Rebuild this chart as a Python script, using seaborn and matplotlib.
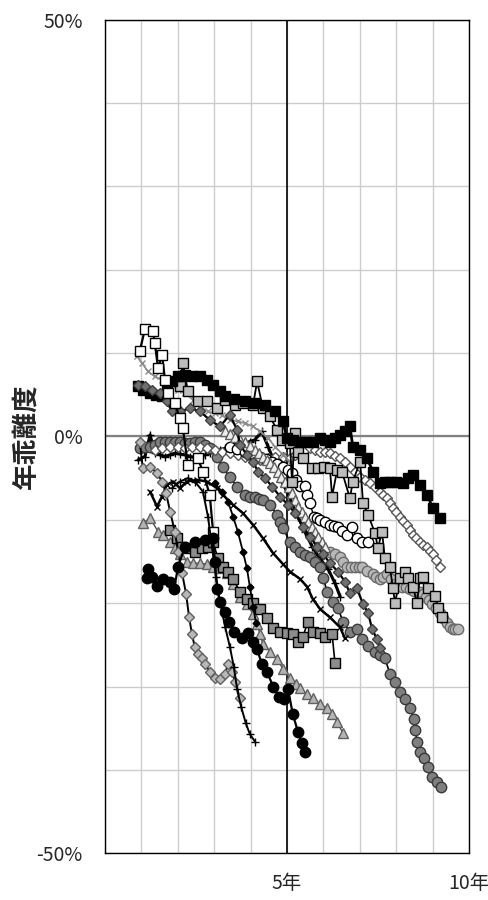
import pandas as pd
import seaborn as sns
from matplotlib import pyplot as plt

# ---------------------------------------------------------------
# data: years since start (x) and yearly deviation in % (y)
# ---------------------------------------------------------------
sqBlack_x = [0.91, 1.05, 1.24, 1.40, 1.57, 1.70, 1.84, 2.01, 2.20, 2.40, 2.61, 2.80, 2.97, 3.15, 3.30, 3.55, 3.85, 4.10, 4.40, 4.67, 4.89, 5.0, 5.18, 5.36, 5.55, 5.71, 5.91, 6.05, 6.18, 6.32, 6.46, 6.60, 6.73, 6.81, 7.01, 7.20, 7.36, 7.55, 7.70, 7.83, 8.00, 8.19, 8.33, 8.46, 8.65, 8.85, 9.01, 9.20]
sqBlack_y = [6.0, 5.6, 5.2, 5.0, 4.8, 5.6, 6.6, 7.2, 7.4, 7.3, 7.2, 6.8, 6.2, 5.5, 4.8, 4.5, 4.2, 4.0, 3.8, 3.0, 1.8, -0.2, -0.4, -0.6, -0.6, -0.6, -0.2, -0.4, -0.6, -0.2, 0.2, 0.7, 1.2, -1.2, -1.6, -2.6, -4.2, -5.6, -5.5, -5.4, -5.5, -5.6, -5.0, -4.6, -5.8, -7.0, -8.6, -9.8]

sqWhite_x = [0.96, 1.10, 1.32, 1.37, 1.46, 1.57, 1.65, 1.73, 1.92, 2.06, 2.14, 2.28, 2.55, 2.69, 2.88, 2.97]
sqWhite_y = [10.3, 12.9, 12.7, 11.2, 8.2, 9.8, 6.8, 5.2, 4.0, 2.2, 1.0, -3.4, -2.6, -4.2, -7.0, -11.4]

sqLight_x = [2.06, 2.14, 2.28, 2.55, 2.80, 3.08, 3.30, 3.57, 3.79, 4.07, 4.18, 4.34, 4.53, 4.73, 4.86, 5.08, 5.14, 5.22, 5.30, 5.44, 5.69, 5.85, 6.02, 6.18, 6.24, 6.38, 6.51, 6.73, 6.81, 7.01, 7.09, 7.23, 7.42, 7.50, 7.61, 7.69, 7.83, 7.91, 7.97, 8.10, 8.24, 8.32, 8.46, 8.57, 8.65, 8.74, 8.87, 9.07, 9.15, 9.26]
sqLight_y = [6.0, 8.8, 5.4, 4.2, 4.2, 3.4, 4.4, 3.8, 4.0, 3.8, 6.6, 3.4, 2.4, 0.8, -0.4, -0.8, -5.4, 0.4, -1.8, -2.6, -3.8, -3.8, -3.6, -3.8, -7.2, -4.0, -4.2, -7.4, -5.4, -3.0, -8.0, -9.4, -11.6, -13.4, -11.4, -14.6, -15.7, -18.2, -20.0, -17.0, -16.2, -17.0, -18.0, -20.0, -17.0, -16.8, -18.2, -19.1, -20.6, -21.6]

dmWhite_x = [1.37, 1.58, 1.79, 2.00, 2.20, 2.40, 2.61, 2.80, 3.02, 3.22, 3.43, 3.65, 3.85, 4.05, 4.26, 4.47, 4.67, 4.88, 5.08, 5.22, 5.36, 5.50, 5.63, 5.77, 5.91, 6.05, 6.18, 6.32, 6.46, 6.60, 6.73, 6.87, 7.01, 7.15, 7.28, 7.42, 7.55, 7.65, 7.75, 7.83, 7.91, 8.00, 8.10, 8.20, 8.30, 8.38, 8.46, 8.55, 8.65, 8.75, 8.85, 8.93, 9.01, 9.10, 9.20]
dmWhite_y = [-1.6, -1.4, -1.2, -1.3, -1.4, -1.3, -1.2, -1.4, -1.6, -1.8, -2.0, -2.2, -2.4, -2.6, -2.8, -2.6, -2.4, -2.5, -2.6, -2.2, -1.8, -1.6, -1.4, -1.6, -1.8, -1.9, -2.0, -2.3, -2.6, -3.1, -3.6, -4.2, -4.8, -5.2, -5.6, -6.1, -6.6, -7.0, -7.4, -8.0, -8.6, -9.1, -9.6, -10.1, -10.6, -11.2, -11.8, -12.2, -12.6, -13.0, -13.3, -13.7, -14.1, -14.8, -15.6]

ciWhite_x = [3.43, 3.64, 3.85, 4.05, 4.26, 4.42, 4.59, 4.74, 4.89, 5.02, 5.14, 5.25, 5.36, 5.49, 5.56, 5.63, 5.74, 5.82, 5.91, 6.05, 6.18, 6.29, 6.40, 6.52, 6.65, 6.79, 6.92, 7.06, 7.23]
ciWhite_y = [-1.2, -1.5, -1.8, -2.1, -2.4, -2.7, -3.0, -3.3, -3.6, -4.0, -4.4, -5.2, -5.9, -5.9, -7.0, -8.0, -9.6, -9.8, -10.0, -10.3, -10.6, -10.7, -10.8, -11.3, -11.8, -10.8, -12.2, -12.6, -12.7]

ciLight_x = [6.18, 6.32, 6.46, 6.55, 6.65, 6.76, 6.87, 6.97, 7.06, 7.20, 7.36, 7.45, 7.55, 7.65, 7.75, 7.86, 7.97, 8.06, 8.16, 8.27, 8.38, 8.50, 8.65, 8.74, 8.82, 8.90, 8.98, 9.09, 9.20, 9.30, 9.40, 9.48, 9.56, 9.63, 9.70]
ciLight_y = [-13.8, -14.1, -14.4, -15.0, -15.6, -15.6, -15.6, -15.7, -15.7, -16.1, -16.5, -16.8, -17.1, -16.8, -16.5, -17.1, -17.7, -17.8, -18.0, -18.1, -18.3, -18.5, -18.6, -18.9, -19.2, -19.6, -20.1, -20.6, -21.2, -21.8, -22.4, -22.8, -23.1, -23.1, -23.1]

ciDark_x = [0.96, 1.10, 1.24, 1.37, 1.51, 1.65, 1.79, 1.92, 2.06, 2.20, 2.34, 2.47, 2.61, 2.75, 2.88, 3.08, 3.24, 3.43, 3.63, 3.85, 3.98, 4.12, 4.23, 4.34, 4.53, 4.73, 4.81, 4.89, 5.08, 5.22, 5.36, 5.50, 5.63, 5.77, 5.91, 6.00, 6.10, 6.26, 6.40, 6.54, 6.73, 6.92, 7.06, 7.23, 7.42, 7.55, 7.69, 7.83, 7.97, 8.10, 8.24, 8.38, 8.49, 8.53, 8.57, 8.65, 8.76, 8.87, 8.98, 9.12, 9.23]
ciDark_y = [-1.4, -1.3, -1.2, -1.0, -0.7, -0.6, -0.6, -0.6, -0.7, -0.8, -0.8, -0.7, -0.7, -1.0, -1.4, -2.4, -3.7, -4.9, -6.0, -7.0, -7.2, -7.3, -7.5, -7.6, -8.2, -9.4, -10.2, -11.0, -12.6, -13.3, -13.8, -14.2, -14.5, -15.0, -15.6, -17.0, -18.6, -19.8, -20.6, -22.2, -23.4, -23.1, -24.3, -25.1, -25.9, -26.2, -26.6, -28.5, -29.4, -30.6, -31.5, -32.6, -33.9, -35.2, -36.6, -37.8, -38.6, -39.6, -40.8, -41.4, -42.0]

dmDark_x = [0.91, 1.10, 1.29, 1.51, 1.70, 1.84, 2.06, 2.34, 2.61, 2.88, 3.16, 3.43, 3.63, 3.71, 3.90, 4.07, 4.20, 4.40, 4.59, 4.81, 5.03, 5.22, 5.44, 5.63, 5.82, 5.99, 6.18, 6.40, 6.59, 6.73, 6.92, 7.09, 7.23, 7.34, 7.47, 7.55]
dmDark_y = [6.2, 6.0, 5.6, 5.2, 4.2, 3.0, 3.0, 3.4, 3.0, 2.0, 1.2, 2.6, 0.8, -1.0, -2.2, -3.0, -4.2, -5.0, -6.0, -7.2, -8.2, -9.2, -10.8, -12.0, -13.2, -14.1, -15.2, -16.2, -17.4, -18.8, -18.2, -20.1, -21.2, -23.1, -24.3, -25.4]

xBlack_x = [1.24, 1.43, 1.57, 1.70, 1.87, 2.06, 2.25, 2.53, 2.80, 3.08, 3.24, 3.52, 3.79, 4.07, 4.34, 4.62, 4.89, 5.08, 5.36, 5.55, 5.71, 5.91, 6.18, 6.46, 6.59]
xBlack_y = [-6.6, -8.4, -7.2, -5.8, -5.4, -6.2, -5.4, -5.2, -5.4, -6.2, -7.0, -8.2, -9.2, -10.6, -12.2, -14.0, -15.3, -16.2, -17.1, -18.0, -19.5, -20.7, -21.7, -22.9, -24.2]

plusBlack_x = [1.84, 2.06, 2.28, 2.47, 2.69, 2.83, 2.94, 3.05, 3.16, 3.30, 3.43, 3.54, 3.63, 3.74, 3.87, 3.98, 4.12]
plusBlack_y = [-6.2, -5.4, -5.0, -5.4, -6.6, -9.6, -13.2, -16.8, -19.8, -22.8, -25.2, -27.6, -30.3, -32.4, -34.4, -35.7, -36.6]

xGray_x = [0.88, 1.02, 1.18, 1.37, 1.57, 1.79, 2.01, 2.20, 2.42, 2.61, 2.83, 3.02, 3.21, 3.43, 3.65, 3.85, 4.07, 4.26, 4.48, 4.67, 4.89, 5.08]
xGray_y = [9.6, 8.8, 7.8, 7.2, 6.8, 6.4, 5.6, 5.2, 4.4, 3.6, 3.0, 2.8, 2.6, 2.0, 1.8, 1.6, 1.2, 0.6, -0.2, -1.2, -2.2, -3.0]

trWhite_x = [3.30, 3.44, 3.57, 3.71, 3.85, 3.98, 4.12, 4.23, 4.34, 4.44, 4.53, 4.64, 4.75, 4.85, 4.95, 5.05, 5.14, 5.22, 5.30, 5.40, 5.49, 5.59, 5.69, 5.77, 5.85, 5.95, 6.04]
trWhite_y = [0.6, 0.3, -0.1, -0.4, -0.7, -1.1, -1.6, -2.0, -2.4, -2.8, -3.2, -3.7, -4.2, -4.8, -5.4, -6.1, -6.8, -7.6, -8.4, -9.0, -9.6, -10.2, -10.8, -11.4, -12.0, -12.6, -13.2]

ciBlack_x = [1.18, 1.15, 1.29, 1.43, 1.59, 1.79, 1.90, 2.01, 2.20, 2.47, 2.75, 2.97, 3.02, 3.08, 3.16, 3.30, 3.41, 3.54, 3.76, 3.93, 4.07, 4.18, 4.31, 4.45, 4.62, 4.78, 4.92, 5.03, 5.16, 5.30, 5.41, 5.49]
ciBlack_y = [-15.9, -17.0, -16.9, -17.9, -17.1, -17.4, -18.3, -15.6, -13.2, -12.6, -12.4, -12.2, -15.0, -18.3, -19.8, -21.1, -22.3, -23.4, -24.2, -23.6, -24.6, -25.5, -27.3, -28.2, -30.0, -31.2, -31.5, -30.3, -33.3, -35.4, -36.8, -37.8]

dmLight_x = [0.96, 1.04, 1.24, 1.43, 1.57, 1.68, 1.79, 1.92, 2.01, 2.12, 2.23, 2.31, 2.39, 2.47, 2.55, 2.66, 2.75, 2.88, 3.02, 3.16, 3.30, 3.38, 3.49, 3.57, 3.71]
dmLight_y = [-0.7, -3.8, -3.6, -4.4, -5.4, -6.8, -9.0, -11.4, -13.8, -16.4, -18.9, -21.6, -23.7, -25.3, -26.1, -26.6, -27.3, -28.2, -29.0, -29.1, -28.5, -27.3, -28.2, -29.4, -31.4]

sqGray_x = [1.79, 1.98, 2.12, 2.28, 2.47, 2.66, 2.83, 2.97, 3.10, 3.24, 3.38, 3.52, 3.71, 3.90, 4.07, 4.26, 4.45, 4.62, 4.81, 5.00, 5.16, 5.30, 5.44, 5.58, 5.71, 5.91, 6.04, 6.24, 6.32]
sqGray_y = [-11.2, -12.2, -13.2, -13.4, -13.8, -13.4, -13.2, -12.6, -14.6, -15.6, -16.2, -17.1, -18.6, -19.5, -20.0, -20.7, -21.8, -23.0, -23.4, -23.6, -23.7, -24.6, -24.0, -22.2, -23.4, -23.6, -24.0, -23.7, -27.2]

trGray_x = [1.04, 1.24, 1.46, 1.59, 1.79, 1.92, 2.06, 2.25, 2.42, 2.61, 2.80, 2.97, 3.16, 3.35, 3.52, 3.71, 3.90, 4.07, 4.18, 4.26, 4.34, 4.53, 4.73, 4.89, 5.08, 5.25, 5.36, 5.55, 5.71, 5.91, 6.10, 6.24, 6.37, 6.54]
trGray_y = [-10.4, -9.8, -11.4, -11.8, -12.6, -13.4, -14.1, -15.0, -15.2, -15.2, -15.3, -15.6, -15.8, -16.4, -17.7, -19.2, -20.1, -21.3, -22.5, -23.7, -24.9, -25.8, -26.7, -27.9, -29.0, -29.7, -30.2, -30.9, -31.4, -32.1, -32.6, -33.3, -34.2, -35.6]

dmSmall_x = [3.02, 3.21, 3.38, 3.52, 3.65, 3.79, 3.90, 3.98, 4.07, 4.15]
dmSmall_y = [-5.6, -6.6, -7.8, -9.6, -11.4, -13.8, -15.8, -18.0, -20.4, -22.4]

plusZero_x = [0.91, 1.10, 1.24, 1.37, 1.51, 1.65, 1.79, 1.92, 2.06, 2.20, 2.34, 2.47, 2.61, 2.75, 2.88, 3.02, 3.16, 3.30, 3.43, 3.57, 3.71, 3.85, 3.98, 4.12, 4.31, 4.48, 4.67, 4.86, 5.08, 5.30, 5.49, 5.69, 5.91, 6.13, 6.32, 6.46]
plusZero_y = [-2.8, -2.4, 0.2, -2.0, -2.2, -2.4, -2.2, -2.0, -2.1, -2.2, -2.4, -2.5, -2.4, -2.2, -2.0, -1.8, -1.6, -1.4, -1.2, -1.0, -0.9, -0.8, -0.6, -0.4, 0.6, -1.2, -3.2, -5.4, -7.4, -9.6, -11.4, -13.2, -14.7, -15.9, -17.6, -19.2]

# (x, y, marker, face, edge, size, line colour, line width)
series = [
    (plusZero_x, plusZero_y, '+', 'black', 'black', 6, 'black', 2.2),
    (ciDark_x, ciDark_y, 'o', '#7f7f7f', '#3a3a3a', 7.5, 'black', 1.2),
    (dmWhite_x, dmWhite_y, 'D', 'white', '#555555', 5.5, '#555555', 0.8),
    (ciWhite_x, ciWhite_y, 'o', 'white', 'black', 7.5, 'black', 1.0),
    (ciLight_x, ciLight_y, 'o', '#b8b8b8', '#6a6a6a', 7.5, '#6a6a6a', 1.0),
    (trWhite_x, trWhite_y, '^', '#eeeeee', '#606060', 6.5, 'black', 1.2),
    (xGray_x, xGray_y, 'x', '#8a8a8a', '#8a8a8a', 5, '#8a8a8a', 1.2),
    (sqLight_x, sqLight_y, 's', '#bdbdbd', 'black', 7, 'black', 1.3),
    (sqBlack_x, sqBlack_y, 's', 'black', 'black', 7, 'black', 2.0),
    (dmDark_x, dmDark_y, 'D', '#707070', '#404040', 5.5, 'black', 1.6),
    (xBlack_x, xBlack_y, 'x', 'black', 'black', 5, 'black', 1.8),
    (sqWhite_x, sqWhite_y, 's', 'white', 'black', 7.5, 'black', 1.6),
    (trGray_x, trGray_y, '^', '#b4b4b4', '#606060', 7, '#505050', 1.0),
    (sqGray_x, sqGray_y, 's', '#8c8c8c', 'black', 7, 'black', 1.2),
    (dmLight_x, dmLight_y, 'D', '#b8b8b8', '#606060', 5.5, 'black', 1.4),
    (dmSmall_x, dmSmall_y, 'D', 'black', 'black', 3.5, 'black', 1.3),
    (plusBlack_x, plusBlack_y, '+', 'black', 'black', 6, 'black', 1.4),
    (ciBlack_x, ciBlack_y, 'o', 'black', 'black', 7.5, 'black', 1.6),
]

sns.set_style("white")
plt.rcParams['font.family'] = ['Noto Sans CJK JP', 'DejaVu Sans']

fig = plt.figure(figsize=(4.88, 9.0), dpi=100)
ax = fig.add_axes([0.215, 0.052, 0.746, 0.926])

for xs, ys, mk, fc, ec, ms, lc, lw in series:
    df = pd.DataFrame({'year': xs, 'dev': ys})
    sns.lineplot(x='year', y='dev', data=df, ax=ax, sort=False, estimator=None,
                 color=lc, linewidth=lw, marker=mk, markersize=ms,
                 markerfacecolor=fc, markeredgecolor=ec, markeredgewidth=1.0)

ax.set_xlim(0, 10)
ax.set_ylim(-50, 50)
ax.set_xticks(range(0, 11))
ax.set_xticklabels(['' if v not in (5, 10) else f'{v}年' for v in range(0, 11)], fontsize=14)
ax.set_yticks(range(-50, 51, 10))
ax.set_yticklabels([f'{v}%' if v in (-50, 0, 50) else '' for v in range(-50, 51, 10)], fontsize=14)
ax.tick_params(axis='y', length=0, pad=16)
ax.tick_params(axis='x', length=0, pad=14)
ax.grid(color='#cccccc', linewidth=1.0)
ax.set_axisbelow(True)
ax.axhline(0, color='#808080', linewidth=1.6, zorder=1)
ax.axvline(5, color='black', linewidth=1.2, zorder=1)
for s in ax.spines.values():
    s.set_color('black')
    s.set_linewidth(1.0)
ax.set_xlabel('')
ax.set_ylabel('年乖離度', fontsize=19, fontweight='bold')
ax.yaxis.set_label_coords(-0.18, 0.5)

plt.savefig('out.png', dpi=100)
